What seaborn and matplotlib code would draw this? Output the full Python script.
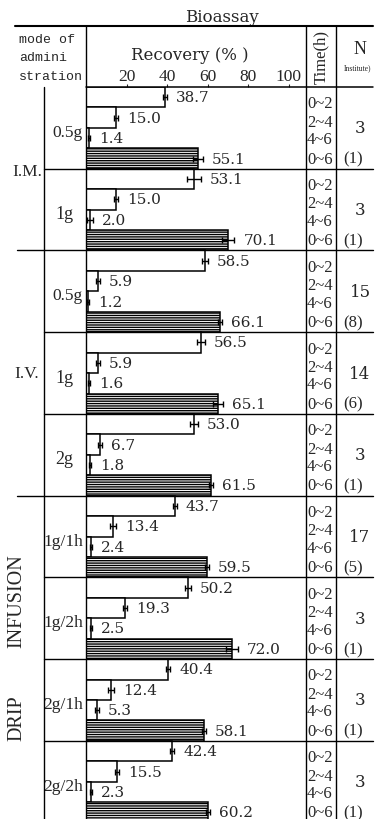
import numpy as np
import pandas as pd
import matplotlib
matplotlib.use("Agg")
import matplotlib.pyplot as plt
import matplotlib.transforms as mtransforms
from matplotlib.lines import Line2D
import seaborn as sns

# values (recovery %, per dosing group)
group_mode = ["I.M.", "I.M.", "I.V.", "I.V.", "I.V.",
              "INFUSION DRIP", "INFUSION DRIP", "INFUSION DRIP", "INFUSION DRIP"]
doses = ["0.5g", "1g", "0.5g", "1g", "2g", "1g/1h", "1g/2h", "2g/1h", "2g/2h"]
periods = ["0~2", "2~4", "4~6", "0~6"]

rec_0_2 = [38.7, 53.1, 58.5, 56.5, 53.0, 43.7, 50.2, 40.4, 42.4]
rec_2_4 = [15.0, 15.0, 5.9, 5.9, 6.7, 13.4, 19.3, 12.4, 15.5]
rec_4_6 = [1.4, 2.0, 1.2, 1.6, 1.8, 2.4, 2.5, 5.3, 2.3]
rec_0_6 = [55.1, 70.1, 66.1, 65.1, 61.5, 59.5, 72.0, 58.1, 60.2]

err_0_2 = [1.0, 3.5, 1.5, 2.0, 2.0, 1.0, 1.5, 1.0, 1.0]
err_2_4 = [1.0, 1.0, 1.0, 1.0, 1.0, 1.5, 1.0, 1.5, 1.0]
err_4_6 = [0.5, 1.5, 0.5, 0.5, 0.5, 0.5, 0.5, 1.0, 0.5]
err_0_6 = [2.5, 3.0, 1.0, 2.5, 1.0, 1.0, 3.0, 1.0, 1.0]

n_cases = [3, 3, 15, 14, 3, 17, 3, 3, 3]
n_inst = [1, 1, 8, 6, 1, 5, 1, 1, 1]

xticks = [20, 40, 60, 80, 100]

# long table: one row per bar, groups top to bottom
rows = []
for g in range(len(doses)):
    recs = [rec_0_2[g], rec_2_4[g], rec_4_6[g], rec_0_6[g]]
    errs = [err_0_2[g], err_2_4[g], err_4_6[g], err_0_6[g]]
    for k, per in enumerate(periods):
        rows.append({"row": f"{g}:{per}", "group": g, "period": per,
                     "recovery": recs[k], "err": errs[k]})
df = pd.DataFrame(rows)

sns.set_style("white")
plt.rcParams["font.family"] = ["DejaVu Serif"]
plt.rcParams["hatch.linewidth"] = 1.0

W, H = 386, 820
fig = plt.figure(figsize=(W / 100, H / 100), dpi=100)

# overlay in pixel coordinates for the table frame
tab = fig.add_axes([0, 0, 1, 1])
tab.set_xlim(0, W)
tab.set_ylim(H, 0)
tab.axis("off")

ax = fig.add_axes([86 / W, (H - 823.6) / H, 220 / W, 735.6 / H])
ax.patch.set_alpha(0)
sns.barplot(data=df, x="recovery", y="row", orient="h", width=1.0,
            color="white", saturation=1, edgecolor="black", linewidth=1.1,
            errorbar=None, ax=ax)
for p in ax.patches[3::4]:
    p.set_hatch("-------")
ax.errorbar(df["recovery"], np.arange(len(df)), xerr=df["err"], fmt="none",
            ecolor="black", elinewidth=1.0, capsize=2, capthick=1.0)

for i, (v, e) in enumerate(zip(df["recovery"], df["err"])):
    ax.annotate(f"{v:.1f}", xy=(v + e, i), xytext=(6.5, 0),
                textcoords="offset points", va="center", ha="left",
                fontsize=11)

ax.set_xlim(0, 108.4)
ax.set_ylim(len(df) - 0.5, -0.5)
ax.set_xlabel("")
ax.set_ylabel("")
ax.set_yticks([])
ax.xaxis.tick_top()
ax.set_xticks(xticks)
ax.set_xticklabels([str(t) for t in xticks], family="Liberation Serif")
ax.tick_params(axis="x", direction="out", length=2, width=0.8, pad=0,
               labelsize=12.5)
for s in ax.spines.values():
    s.set_visible(False)

# x from overlay pixels, y from bar rows
trans = mtransforms.blended_transform_factory(tab.transData, ax.transData)


def line(xs, ys, transform, lw=1.0):
    fig.add_artist(Line2D(xs, ys, transform=transform, color="black", lw=lw))


# frame
line([15, 373], [27, 27], tab.transData, lw=1.5)
line([86, 373], [88, 88], tab.transData, lw=1.1)
line([86, 86], [27, 820], tab.transData)
line([44, 44], [88, 820], tab.transData)
line([306, 306], [27, 820], tab.transData)
line([336, 336], [27, 820], tab.transData)
for g in range(1, len(doses)):
    b = 4 * g - 0.5
    x0 = 17 if group_mode[g] != group_mode[g - 1] else 44
    line([x0, 373], [b, b], trans)

# header
tab.text(222, 17, "Bioassay", ha="center", va="center", fontsize=12)
for txt, y in zip(["mode of", "admini", "stration"], [40, 58, 77]):
    tab.text(19, y, txt, ha="left", va="center", fontsize=9.5,
             family="Liberation Mono")
tab.text(190, 56, "Recovery (% )", ha="center", va="center", fontsize=12)
tab.text(321, 57, "Time(h)", ha="center", va="center", rotation=90,
         fontsize=12, family="Liberation Serif")
tab.text(360, 50, "N", ha="center", va="center", fontsize=13,
         family="Liberation Serif")
tab.text(358, 68, "Institute)", ha="center", va="center", fontsize=5.5,
         family="Liberation Serif")

# left column labels
tab.text(27, 172, "I.M.", ha="center", va="center", fontsize=12.5,
         family="Liberation Serif")
tab.text(27, 374, "I.V.", ha="center", va="center", fontsize=12.5,
         family="Liberation Serif")
tab.text(17, 601, "INFUSION", ha="center", va="center", rotation=90,
         fontsize=14.5, family="Liberation Serif")
tab.text(17, 718, "DRIP", ha="center", va="center", rotation=90,
         fontsize=14.5, family="Liberation Serif")

time_shift = [0.3, 0.2, 0.05, 0.0]
for g, dose in enumerate(doses):
    yc = 4 * g + 1.7
    if len(dose) <= 2:
        ax.text(64, yc, dose, transform=trans, ha="center", va="center",
                fontsize=13, family="Liberation Serif")
    else:
        ax.text(83, yc, dose, transform=trans, ha="right", va="center",
                fontsize=12.5, family="Liberation Serif")
    for k, per in enumerate(periods):
        ax.text(307, 4 * g + k + time_shift[k], per, transform=trans,
                ha="left", va="center", fontsize=12, family="Liberation Serif")
    ax.text(360, 4 * g + 1.5, str(n_cases[g]), transform=trans, ha="center",
            va="center", fontsize=12)
    ax.text(353, 4 * g + 3, f"({n_inst[g]})", transform=trans, ha="center",
            va="center", fontsize=12, family="Liberation Serif")

fig.savefig("out.png", dpi=100)
